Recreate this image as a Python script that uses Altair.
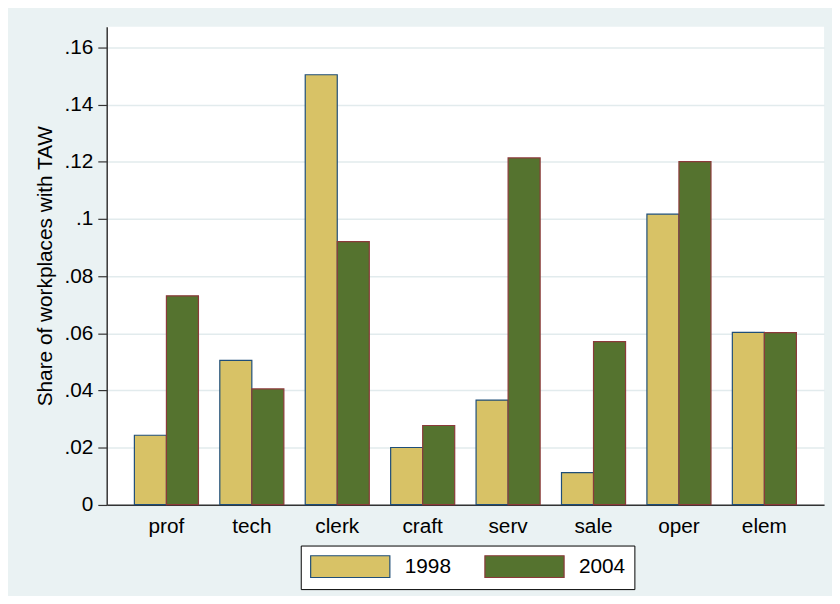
import altair as alt
import pandas as pd

categories = ["prof", "tech", "clerk", "craft", "serv", "sale", "oper", "elem"]
years = ["1998", "2004"]
share_1998 = [0.0243, 0.0505, 0.1505, 0.0200, 0.0366, 0.0112, 0.1017, 0.0603]
share_2004 = [0.0731, 0.0405, 0.0921, 0.0277, 0.1214, 0.0571, 0.1201, 0.0602]
y_ticks = [0, 0.02, 0.04, 0.06, 0.08, 0.10, 0.12, 0.14, 0.16]

rows = []
for c, a, b in zip(categories, share_1998, share_2004):
    rows.append({"occ": c, "year": years[0], "share": a})
    rows.append({"occ": c, "year": years[1], "share": b})
df = pd.DataFrame(rows)

FONT = "Liberation Sans"
BG = "#EAF2F3"

fill_scale = alt.Scale(domain=years, range=["#D8C266", "#55732F"])
stroke_scale = alt.Scale(domain=years, range=["#1F4E79", "#8B3A3A"])

legend = alt.Legend(
    title=None,
    orient="none",
    legendX=196,
    legendY=524,
    direction="horizontal",
    symbolType="M-1,-1L6.273,-1L6.273,1L-1,1Z",
    symbolSize=484,
    symbolStrokeWidth=1.2,
    symbolOpacity=1,
    labelFont=FONT,
    labelFontSize=21,
    labelColor="black",
    labelOffset=72,
    columnPadding=31,
    padding=9,
    strokeColor="black",
    fillColor="white",
)

chart = (
    alt.Chart(df)
    .mark_bar(strokeWidth=1.2, opacity=1)
    .encode(
        x=alt.X(
            "occ:N",
            sort=categories,
            scale=alt.Scale(paddingInner=0.25, paddingOuter=0.324),
            axis=alt.Axis(
                title=None,
                labelAngle=0,
                ticks=False,
                labelPadding=11,
                labelFont=FONT,
                labelFontSize=21,
                labelColor="black",
                domainColor="#333333",
                domainWidth=1.5,
                grid=False,
            ),
        ),
        xOffset=alt.XOffset("year:N", sort=years, scale=alt.Scale(paddingInner=0, paddingOuter=0)),
        y=alt.Y(
            "share:Q",
            scale=alt.Scale(domain=[0, 0.1673], nice=False, zero=True),
            axis=alt.Axis(
                values=y_ticks,
                labelExpr="datum.value == 0 ? '0' : substring(format(datum.value, '.2~f'), 1)",
                title="Share of workplaces with TAW",
                titleFont=FONT,
                titleFontSize=21,
                titleFontWeight="normal",
                titleColor="black",
                titlePadding=9,
                labelFont=FONT,
                labelFontSize=21,
                labelColor="black",
                labelPadding=5,
                tickSize=9,
                tickColor="#333333",
                tickWidth=1.2,
                domainColor="#333333",
                domainWidth=1.5,
                grid=True,
                gridColor="#E2EBED",
                gridWidth=1.5,
            ),
        ),
        fill=alt.Fill("year:N", scale=fill_scale, legend=legend),
        stroke=alt.Stroke("year:N", scale=stroke_scale, legend=legend),
    )
    .properties(
        width=724.6,
        height=482.7,
        autosize=alt.AutoSizeParams(type="none"),
        padding={"left": 99.7, "top": 16, "right": 8, "bottom": 89},
        background=BG,
    )
    .configure_view(fill="white", strokeWidth=0)
)

chart.save("out.html", embed_options={"renderer": "svg", "actions": False})
